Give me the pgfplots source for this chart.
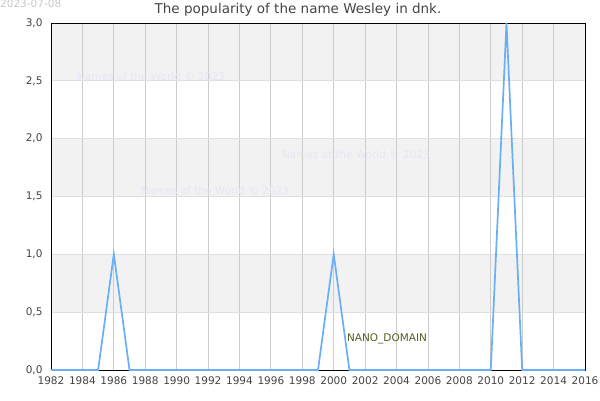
\documentclass[border=0pt]{standalone}
\usepackage{pgfplots}
\pgfplotsset{compat=1.18}
\usepackage{fontspec}
\setmainfont{DejaVu Sans}
\definecolor{band}{HTML}{F2F2F2}
\definecolor{gridv}{HTML}{CCCCCC}
\definecolor{gridh}{HTML}{E0E0E0}
\definecolor{linec}{HTML}{6AAEF5}
\definecolor{txt}{HTML}{444444}
\definecolor{wm}{HTML}{E6E6F5}
\begin{document}
\begin{tikzpicture}
\path[use as bounding box] (0pt,0pt) rectangle (600pt,400pt);
\fill[band] (51pt,87.833pt) rectangle (585pt,145.667pt);
\fill[band] (51pt,203.5pt) rectangle (585pt,261.333pt);
\fill[band] (51pt,319.167pt) rectangle (585pt,377pt);
\node[anchor=north west, text=gray!45, font=\fontsize{10.5}{12}\selectfont, inner sep=0pt] at (0pt,400pt) {2023-07-08};
\node[anchor=center, text=txt, font=\fontsize{13.5}{15}\selectfont, inner sep=0pt] at (298pt,390pt) {The popularity of the name Wesley in dnk.};
\begin{axis}[
  at={(51pt,30pt)}, anchor=south west,
  scale only axis, width=534pt, height=347pt,
  xmin=1982, xmax=2016, ymin=0, ymax=3,
  xtick={1982,1984,...,2016},
  ytick={0,0.5,...,3},
  x tick label style={/pgf/number format/1000 sep={}, text=txt, font=\fontsize{10.5}{12}\selectfont, yshift=-3pt},
  y tick label style={/pgf/number format/fixed, /pgf/number format/fixed zerofill, /pgf/number format/precision=1, /pgf/number format/use comma, text=txt, font=\fontsize{10.5}{12}\selectfont, xshift=-5pt},
  /pgf/number format/assume math mode=true,
  xmajorgrids, ymajorgrids,
  x grid style={gridv, line width=0.8pt},
  y grid style={gridh, line width=0.8pt},
  tick style={draw=none},
  axis line style={black, line width=1pt},
]
\addplot[linec, line width=1.7pt, mark=none] coordinates {
(1982,0)(1983,0)(1984,0)(1985,0)(1986,1)(1987,0)(1988,0)(1989,0)(1990,0)(1991,0)(1992,0)(1993,0)(1994,0)(1995,0)(1996,0)(1997,0)(1998,0)(1999,0)(2000,1)(2001,0)(2002,0)(2003,0)(2004,0)(2005,0)(2006,0)(2007,0)(2008,0)(2009,0)(2010,0)(2011,3)(2012,0)(2013,0)(2014,0)(2015,0)(2016,0)
};
\end{axis}
\node[text=wm, font=\fontsize{10.5}{12}\selectfont, inner sep=0pt] at (151pt,323pt) {Names of the World © 2023};
\node[text=wm, font=\fontsize{10.5}{12}\selectfont, inner sep=0pt] at (356pt,245pt) {Names of the World © 2023};
\node[text=wm, font=\fontsize{10.5}{12}\selectfont, inner sep=0pt] at (215pt,209pt) {Names of the World © 2023};
\node[text={rgb,255:red,80;green,95;blue,35}, font=\fontsize{10.5}{12}\selectfont, inner sep=0pt] at (387pt,61pt) {NANO\_DOMAIN};
\end{tikzpicture}
\end{document}
